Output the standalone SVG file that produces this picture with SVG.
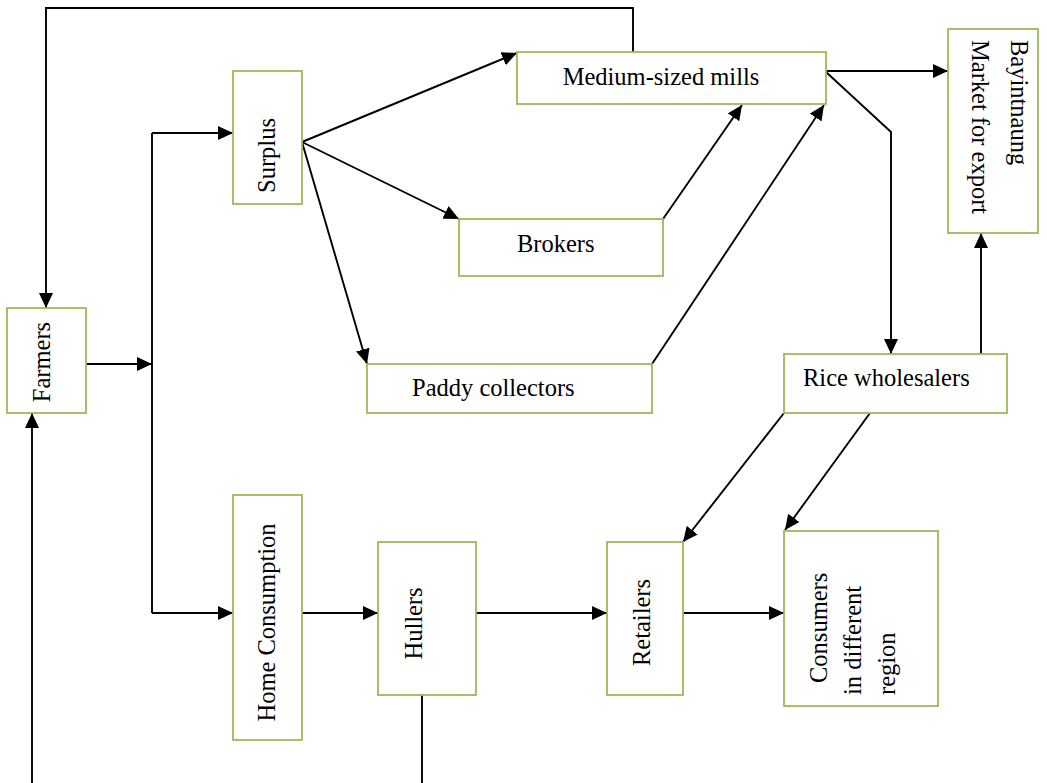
<svg xmlns="http://www.w3.org/2000/svg" width="1047" height="783" viewBox="0 0 1047 783">
<defs>
<marker id="ah" markerWidth="15" markerHeight="14" refX="15" refY="7" orient="auto" markerUnits="userSpaceOnUse">
<path d="M0,0 L15,7 L0,14 z" fill="#000"/>
</marker>
<style>
.box{fill:#fff;stroke:#9BBB59;stroke-width:1.8}
.lbl{font-family:"Liberation Serif","Times New Roman",serif;font-size:24.5px;fill:#000}
.c{fill:none;stroke:#000;stroke-width:1.9}
.a{marker-end:url(#ah)}
</style>
</defs>
<rect width="1047" height="783" fill="#fff"/>
<g id="connectors">
<polyline class="c a" points="633,52 633,8 46,8 46,308"/>
<line class="c a" x1="86" y1="364" x2="152" y2="364"/>
<line class="c" x1="152" y1="133" x2="152" y2="613"/>
<line class="c a" x1="152" y1="133" x2="233" y2="133"/>
<line class="c a" x1="152" y1="613" x2="233" y2="613"/>
<line class="c a" x1="302" y1="613" x2="378" y2="613"/>
<line class="c a" x1="476" y1="613" x2="607" y2="613"/>
<line class="c a" x1="683" y1="613" x2="784" y2="613"/>
<line class="c a" x1="302" y1="142" x2="517" y2="53"/>
<line class="c a" x1="302" y1="142" x2="459" y2="219"/>
<line class="c a" x1="302" y1="142" x2="367" y2="364"/>
<line class="c a" x1="663" y1="219" x2="742" y2="105"/>
<line class="c a" x1="652" y1="364" x2="824" y2="105"/>
<line class="c a" x1="826" y1="71" x2="948" y2="71"/>
<polyline class="c a" points="826,72 891,132 891,354"/>
<line class="c a" x1="981" y1="354" x2="981" y2="233"/>
<line class="c a" x1="784" y1="413" x2="683" y2="542"/>
<line class="c a" x1="870" y1="413" x2="785" y2="530"/>
<line class="c a" x1="32" y1="783" x2="32" y2="413"/>
<line class="c" x1="422" y1="695" x2="422" y2="783"/>
</g>
<g id="farmers">
<rect class="box" x="7" y="308" width="79" height="105"/>
<text class="lbl" text-anchor="middle" transform="translate(50,362) rotate(-90)">Farmers</text>
</g>
<g id="surplus">
<rect class="box" x="233" y="71" width="69" height="133"/>
<text class="lbl" text-anchor="middle" transform="translate(275,155.5) rotate(-90)">Surplus</text>
</g>
<g id="medium-mills">
<rect class="box" x="517" y="52" width="309" height="52"/>
<text class="lbl" x="661" y="85" text-anchor="middle">Medium-sized mills</text>
</g>
<g id="brokers">
<rect class="box" x="459" y="219" width="204" height="57"/>
<text class="lbl" x="517" y="252">Brokers</text>
</g>
<g id="paddy-collectors">
<rect class="box" x="367" y="364" width="285" height="49"/>
<text class="lbl" x="412" y="396">Paddy collectors</text>
</g>
<g id="bayintnaung">
<rect class="box" x="948" y="29" width="90" height="204"/>
<text class="lbl" transform="translate(1010.5,40) rotate(90)">Bayintnaung</text>
<text class="lbl" transform="translate(972,40) rotate(90)">Market for export</text>
</g>
<g id="rice-wholesalers">
<rect class="box" x="784" y="354" width="223" height="59"/>
<text class="lbl" x="803" y="386">Rice wholesalers</text>
</g>
<g id="home-consumption">
<rect class="box" x="233" y="495" width="69" height="245"/>
<text class="lbl" text-anchor="middle" transform="translate(275,622.5) rotate(-90)">Home Consumption</text>
</g>
<g id="hullers">
<rect class="box" x="378" y="542" width="98" height="153"/>
<text class="lbl" text-anchor="middle" transform="translate(422,623.5) rotate(-90)">Hullers</text>
</g>
<g id="retailers">
<rect class="box" x="607" y="542" width="76" height="153"/>
<text class="lbl" text-anchor="middle" transform="translate(650,622.5) rotate(-90)">Retailers</text>
</g>
<g id="consumers">
<rect class="box" x="784" y="531" width="154" height="175"/>
<text class="lbl" transform="translate(827,683) rotate(-90)">Consumers</text>
<text class="lbl" transform="translate(861,695) rotate(-90)">in different</text>
<text class="lbl" transform="translate(895,695) rotate(-90)">region</text>
</g>
</svg>
